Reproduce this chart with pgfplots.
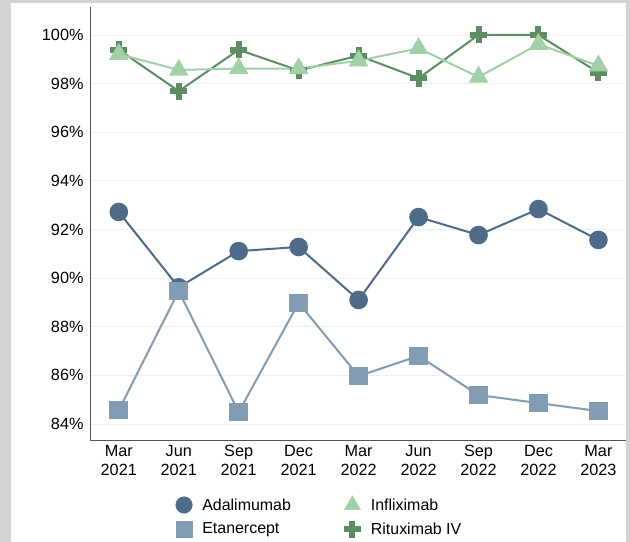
\documentclass[border=0pt]{standalone}
\usepackage{fontspec}
\setmainfont{Liberation Sans}
\usepackage{pgfplots}
\pgfplotsset{compat=1.18}
\definecolor{adal}{HTML}{4F6B87}
\definecolor{etan}{HTML}{819CB3}
\definecolor{infl}{HTML}{A3D0A8}
\definecolor{ritu}{HTML}{5E8C63}
\definecolor{frame}{HTML}{D3D3D3}
\definecolor{axl}{HTML}{555555}
\begin{document}
\begin{tikzpicture}[x=1bp,y=1bp]
\fill[frame] (0,0) rectangle (630,542);
\fill[white] (10.5,0) rectangle (626,539);
\begin{axis}[
  at={(90bp,101bp)}, anchor=south west,
  scale only axis, width=536bp, height=434bp,
  xmin=-0.48, xmax=8.46, ymin=83.3, ymax=101.15,
  axis x line*=bottom, axis y line*=left,
  axis line style={draw=axl, line width=1bp, -},
  xtick={0,...,8},
  xticklabels={{Mar\\2021},{Jun\\2021},{Sep\\2021},{Dec\\2021},{Mar\\2022},{Jun\\2022},{Sep\\2022},{Dec\\2022},{Mar\\2023}},
  xticklabel style={align=center, font=\fontsize{16.3}{19}\selectfont, text=black, yshift=-1bp},
  ytick={84,86,...,100},
  yticklabels={84\%,86\%,88\%,90\%,92\%,94\%,96\%,98\%,100\%},
  yticklabel style={font=\fontsize{16.3}{19}\selectfont, text=black, xshift=-3bp},
  major tick length=0pt,
  ymajorgrids, major grid style={draw=black!6, line width=0.8bp},
  legend columns=2,
  legend style={at={(0.154,-0.121)}, anchor=north west, draw=none, fill=none,
    font=\fontsize{16}{19}\selectfont, row sep=7bp,
    /tikz/every odd column/.append style={column sep=8bp},
    /tikz/every even column/.append style={column sep=51bp}},
  legend cell align=left,
]
\addplot[adal, line width=2bp, mark=*, mark size=8.3bp, mark options={solid, fill=adal, draw=adal}, forget plot]
  coordinates {(0,92.72) (1,89.62) (2,91.11) (3,91.28) (4,89.10) (5,92.51) (6,91.77) (7,92.84) (8,91.57)};
\addplot[etan, line width=2bp, mark=square*, mark size=8.3bp, mark options={solid, fill=etan, draw=etan}, forget plot]
  coordinates {(0,84.57) (1,89.47) (2,84.49) (3,88.98) (4,85.97) (5,86.80) (6,85.19) (7,84.86) (8,84.53)};
\addplot[ritu, line width=2bp, mark=+, mark size=8.5bp, mark options={solid, line width=6bp}, forget plot]
  coordinates {(0,99.39) (1,97.69) (2,99.39) (3,98.54) (4,99.15) (5,98.22) (6,100.0) (7,100.0) (8,98.45)};
\addplot[infl, line width=2bp, mark=triangle*, mark size=9.3bp, mark options={solid, fill=infl, draw=infl}, forget plot]
  coordinates {(0,99.21) (1,98.56) (2,98.62) (3,98.62) (4,98.94) (5,99.45) (6,98.27) (7,99.62) (8,98.73)};
\addlegendimage{only marks, mark=*, mark size=8.3bp, fill=adal, draw=adal}
\addlegendentry{Adalimumab}
\addlegendimage{only marks, mark=triangle*, mark size=9.3bp, fill=infl, draw=infl}
\addlegendentry{Infliximab}
\addlegendimage{only marks, mark=square*, mark size=8.3bp, fill=etan, draw=etan}
\addlegendentry{Etanercept}
\addlegendimage{only marks, mark=+, mark size=8.5bp, draw=ritu, mark options={line width=6bp}}
\addlegendentry{Rituximab IV}
\end{axis}
\end{tikzpicture}
\end{document}
